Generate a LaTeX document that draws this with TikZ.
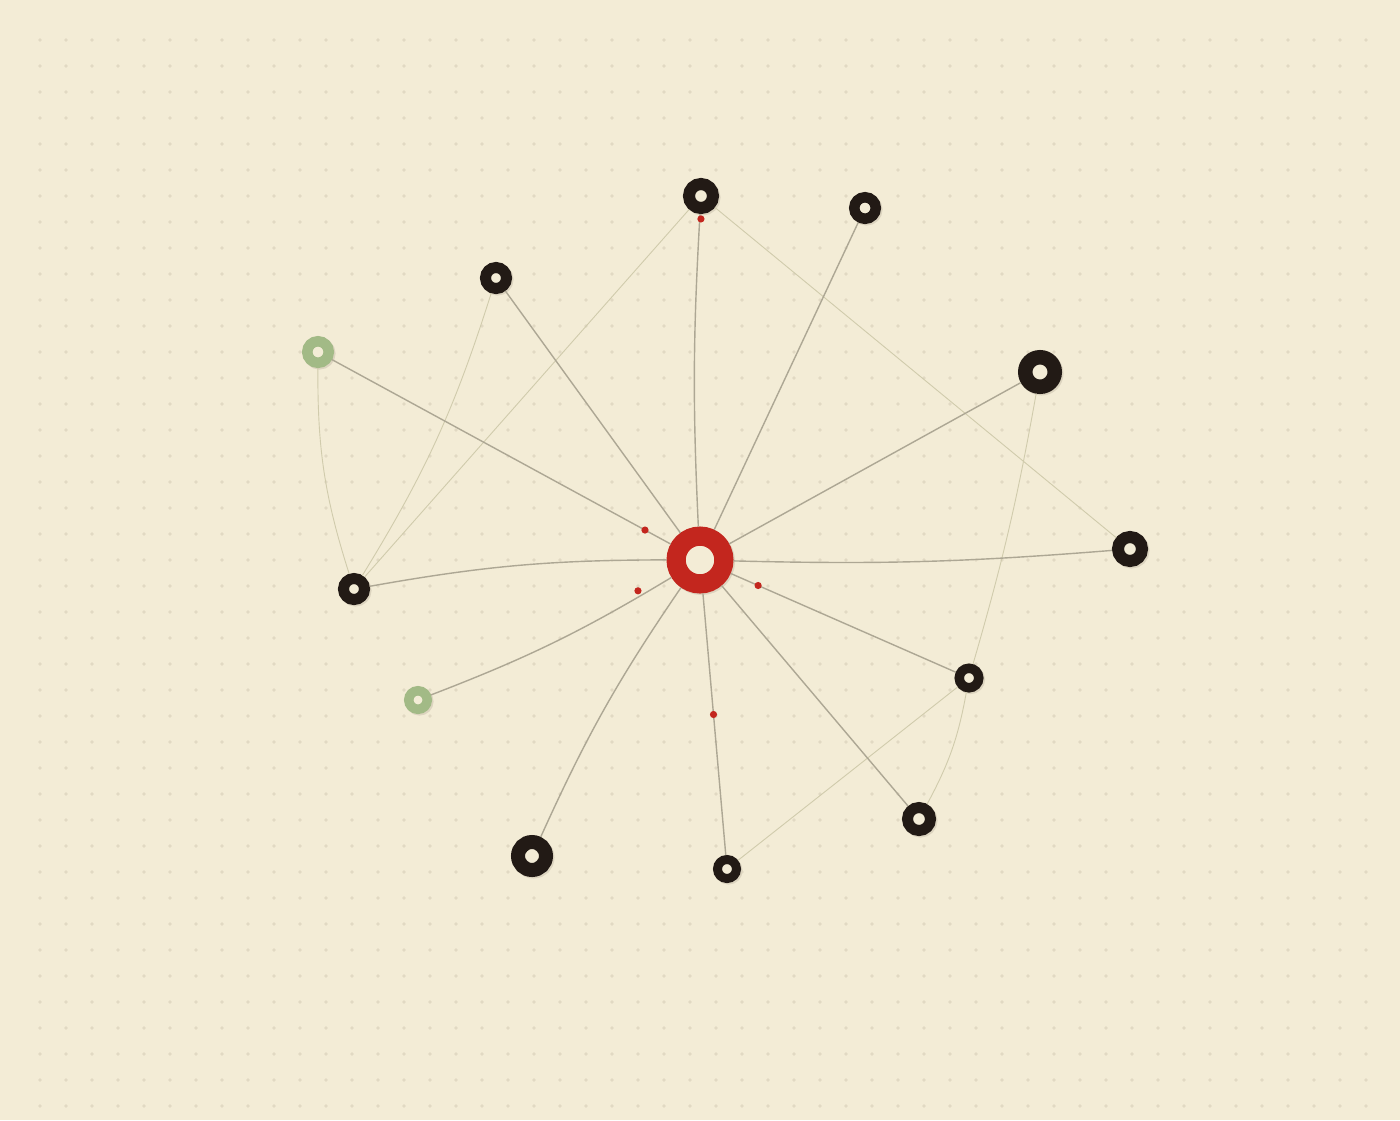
\documentclass[tikz,border=0pt]{standalone}
\usetikzlibrary{
  calc,
  positioning,
}
\definecolor{paper}{HTML}{F3ECD6}
\definecolor{dotc}{HTML}{E1D9C3}
\definecolor{shade}{HTML}{DCD4BF}
\definecolor{ink}{HTML}{221A15}
\definecolor{sage}{HTML}{A2BA86}
\definecolor{signal}{HTML}{C3261E}
\definecolor{linkc}{HTML}{ADA794}
\definecolor{faintc}{HTML}{D0CBAC}

\begin{document}
\begin{tikzpicture}[x=1pt,y=-1pt,
  ring/.style 2 args={circle,inner sep=0pt,minimum size=#1,line width=#2,
    fill=paper,preaction={draw=shade,fill=shade,
      transform canvas={xshift=1.5pt,yshift=-1.5pt}}},
  leaf/.style={draw=ink},
  sprout/.style={draw=sage},
  hub/.style={draw=signal},
  link/.style={draw=linkc,line width=1.4pt},
  faint/.style={draw=faintc,line width=.9pt},
  pkt/.style={fill=signal}]
  \fill[paper] (0,0) rectangle (1400,1120);
  \useasboundingbox (0,0) rectangle (1400,1120);
  \foreach \x in {40,66,...,1366}
    \foreach \y in {40,66,...,1106}
      \fill[dotc] (\x,\y) circle (1.8pt);
  %%
  \node[ring={47.8pt}{19.2pt},hub](Hub) at (700,560){};
  \node[ring={24pt}{12pt},leaf](L1) at (701,196){};
  \node[ring={21.5pt}{10.5pt},leaf](L2) at (865,208){};
  \node[ring={21pt}{11pt},leaf](L3) at (496,278){};
  \node[ring={21.5pt}{10.5pt},sprout](L4) at (318,352){};
  \node[ring={29.5pt}{14.5pt},leaf](L5) at (1040,372){};
  \node[ring={24pt}{12pt},leaf](L6) at (1130,549){};
  \node[ring={21pt}{11pt},leaf](L7) at (354,589){};
  \node[ring={18.5pt}{9.5pt},sprout](L8) at (418,700){};
  \node[ring={19.5pt}{9.5pt},leaf](L9) at (969,678){};
  \node[ring={23pt}{11pt},leaf](L10) at (919,819){};
  \node[ring={28pt}{14pt},leaf](L11) at (532,856){};
  \node[ring={19pt}{9pt},leaf](L12) at (727,869){};
  %%
  \draw[faint] (L1) -- (L7);
  \draw[faint] (L1) -- (L6);
  \draw[faint] (L3) to[bend left=7] (L7);
  \draw[faint] (L4) to[bend right=9] (L7);
  \draw[faint] (L5) to[bend left=3] (L9);
  \draw[faint] (L9) -- (L12);
  \draw[faint] (L9) to[bend left=9] (L10);
  %%
  \draw[link] (Hub) to[bend left=3] (L1);
  \draw[link] (Hub) -- (L2);
  \draw[link] (Hub) -- (L3);
  \draw[link] (Hub) -- (L4);
  \draw[link] (Hub) -- (L5);
  \draw[link] (Hub) to[bend right=3] (L6);
  \draw[link] (Hub) to[bend right=5] (L7);
  \draw[link] (Hub) to[bend left=5] (L8);
  \draw[link] (Hub) -- (L9);
  \draw[link] (Hub) -- (L10);
  \draw[link] (Hub) to[bend right=5] (L11);
  \draw[link] (Hub) -- (L12);
  %%
  \fill[pkt] ($(Hub.center)!.937!(L1.center)$) circle (3.6pt);
  \fill[pkt] ($(Hub.center)!.144!(L4.center)$) circle (3.6pt);
  \fill[pkt] ($(Hub.center)!.22!(L8.center)$) circle (3.6pt);
  \fill[pkt] ($(Hub.center)!.216!(L9.center)$) circle (3.6pt);
  \fill[pkt] ($(Hub.center)!.5!(L12.center)$) circle (3.6pt);
\end{tikzpicture}
\end{document}
